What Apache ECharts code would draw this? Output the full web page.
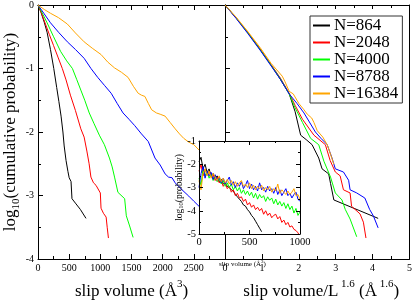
<!DOCTYPE html>
<html><head><meta charset="utf-8">
<script src="https://cdn.jsdelivr.net/npm/echarts@6/dist/echarts.min.js"></script>
<style>html,body{margin:0;padding:0;background:#fff}#c{width:415px;height:305px}</style>
</head><body><div id="c"></div>
<script>
// ---------- DATA ----------
const seriesNames = ['N=864', 'N=2048', 'N=4000', 'N=8788', 'N=16384'];
const seriesColors = ['#000000', '#ff0000', '#00ff00', '#0000ff', '#ffa500'];

// Left panel: log10(cumulative probability) vs slip volume (Å^3)
const left864 = [[0,0],[50,-0.12],[100,-0.27],[146,-0.43],[200,-0.7],[253,-1.0],[300,-1.3],[335,-1.52],[370,-1.75],[400,-2.0],[420,-2.22],[450,-2.45],[480,-2.62],[500,-2.72],[530,-2.78],[545,-3.05],[600,-3.12],[680,-3.22],[770,-3.36]];
const left2048 = [[0,0],[60,-0.14],[120,-0.3],[180,-0.46],[250,-0.64],[320,-0.82],[390,-1.0],[450,-1.18],[520,-1.42],[600,-1.66],[687,-1.95],[740,-2.08],[784,-2.3],[820,-2.5],[849,-2.71],[890,-2.8],[931,-2.84],[1000,-2.96],[1011,-3.2],[1050,-3.28],[1093,-3.34],[1110,-3.5],[1130,-3.67]];
const left4000 = [[0,0],[80,-0.15],[146,-0.28],[250,-0.5],[362,-0.73],[460,-0.88],[552,-1.0],[620,-1.17],[687,-1.34],[750,-1.5],[822,-1.7],[900,-1.87],[984,-2.05],[1065,-2.2],[1146,-2.41],[1190,-2.55],[1228,-2.71],[1282,-2.95],[1390,-3.05],[1417,-3.32],[1470,-3.48],[1526,-3.66]];
const left8788 = [[0,0],[100,-0.14],[200,-0.28],[330,-0.43],[471,-0.58],[600,-0.7],[740,-0.84],[850,-1.0],[958,-1.14],[1070,-1.27],[1174,-1.39],[1270,-1.55],[1364,-1.7],[1460,-1.8],[1552,-1.9],[1660,-2.03],[1769,-2.15],[1877,-2.41],[1960,-2.52],[2039,-2.66],[2094,-2.71],[2150,-2.72],[2200,-2.8],[2310,-2.91],[2419,-3.01],[2500,-3.09],[2635,-3.22],[2700,-3.4],[2750,-3.5]];
const left16384 = [[0,0],[100,-0.07],[200,-0.13],[330,-0.2],[471,-0.3],[600,-0.44],[740,-0.58],[870,-0.68],[1011,-0.78],[1120,-0.9],[1227,-0.99],[1340,-1.06],[1445,-1.14],[1530,-1.28],[1607,-1.39],[1660,-1.42],[1715,-1.44],[1770,-1.55],[1823,-1.65],[1900,-1.7],[1960,-1.72],[2039,-1.75],[2120,-1.85],[2201,-1.95],[2270,-2.03],[2338,-2.1],[2420,-2.16],[2500,-2.2],[2600,-2.3],[2700,-2.45]];

// Right panel: scaled slip volume / L^1.6
const right864 = [[0,0],[0.31,-0.21],[0.62,-0.44],[0.95,-0.7],[1.25,-0.95],[1.5,-1.17],[1.74,-1.4],[1.9,-1.68],[2.05,-2.05],[2.2,-2.12],[2.36,-2.2],[2.54,-2.41],[2.63,-2.58],[2.81,-2.66],[2.86,-2.81],[2.95,-3.07],[4.15,-3.36]];
const right2048 = [[0,0],[0.3,-0.2],[0.62,-0.43],[0.95,-0.69],[1.25,-0.94],[1.5,-1.15],[1.74,-1.39],[1.9,-1.58],[2.1,-1.8],[2.41,-2.05],[2.72,-2.2],[2.85,-2.45],[2.99,-2.63],[3.12,-2.69],[3.21,-2.91],[3.39,-2.96],[3.43,-3.17],[3.66,-3.29],[3.75,-3.42],[3.82,-3.67]];
const right4000 = [[0,0],[0.3,-0.2],[0.62,-0.44],[0.95,-0.7],[1.25,-0.95],[1.5,-1.16],[1.74,-1.4],[1.9,-1.62],[2.1,-1.85],[2.32,-2.1],[2.54,-2.2],[2.68,-2.46],[2.86,-2.71],[2.99,-2.96],[3.17,-3.07],[3.26,-3.22],[3.39,-3.37],[3.57,-3.65]];
const right8788 = [[0,0],[0.3,-0.21],[0.62,-0.45],[0.95,-0.71],[1.25,-0.96],[1.5,-1.17],[1.74,-1.4],[1.95,-1.55],[2.14,-1.7],[2.45,-2.0],[2.6,-2.1],[2.77,-2.2],[2.9,-2.41],[2.99,-2.58],[3.21,-2.63],[3.35,-2.76],[3.39,-2.91],[3.57,-2.96],[3.79,-3.04],[3.92,-3.22],[4.02,-3.32],[4.15,-3.51]];
const right16384 = [[0,0],[0.3,-0.19],[0.62,-0.42],[0.95,-0.67],[1.25,-0.92],[1.55,-1.12],[1.62,-1.2],[1.74,-1.36],[1.85,-1.4],[2.0,-1.55],[2.14,-1.65],[2.23,-1.72],[2.35,-1.78],[2.41,-1.85],[2.5,-1.98],[2.65,-2.08],[2.77,-2.2],[2.86,-2.35],[2.95,-2.51]];

// Inset: log10(probability) vs slip volume, bins every 20 Å^3
const insetX = [0,20,40,60,80,100,120,140,160,180,200,220,240,260,280,300,320,340,360,380,400,420,440,460,480,500,520,540,560,580,600,620,640,660,680,700,720,740,760,780,800,820,840,860,880,900,920,940,960,980,1000];
const inset864 = [-1.9,-1.7,-2.2,-2.0,-2.35,-2.2,-2.5,-2.4,-2.6,-2.5,-2.75,-2.65,-2.85,-2.8,-2.95,-3.0,-3.1,-3.15,-3.3,-3.4,-3.5,-3.6,-3.75,-3.8,-3.95,-4.05,-4.2,-4.3,-4.45,-4.6,-4.75,-4.9];
const inset2048 = [-2.3,-2.0,-2.5,-2.2,-2.45,-2.3,-2.55,-2.45,-2.7,-2.55,-2.8,-2.7,-2.95,-2.8,-3.05,-2.95,-3.2,-3.1,-3.35,-3.25,-3.45,-3.4,-3.6,-3.5,-3.75,-3.65,-3.85,-3.75,-3.95,-3.85,-4.0,-3.9,-4.15,-4.0,-4.2,-4.1,-4.3,-4.2,-4.15,-4.35,-4.25,-4.5,-4.4,-4.6,-4.5,-4.7,-4.65,-4.8,-4.85,-4.95,-5.1];
const inset4000 = [-2.6,-2.9,-2.2,-2.5,-2.3,-2.6,-2.4,-2.7,-2.5,-2.75,-2.6,-2.85,-2.7,-2.95,-2.8,-3.0,-2.85,-3.1,-2.95,-3.15,-3.0,-3.25,-3.1,-3.3,-3.15,-3.35,-3.2,-3.45,-3.25,-3.5,-3.3,-3.45,-3.35,-3.6,-3.4,-3.55,-3.45,-3.7,-3.5,-3.75,-3.6,-3.8,-3.65,-3.9,-3.7,-3.95,-3.8,-4.1,-3.9,-4.2,-4.05];
const inset8788 = [-3.0,-2.4,-2.1,-2.6,-2.3,-2.5,-2.35,-2.65,-2.45,-2.7,-2.55,-2.8,-2.6,-2.85,-2.7,-2.55,-2.9,-2.75,-3.0,-2.8,-2.95,-2.75,-3.05,-2.9,-2.7,-3.05,-2.85,-3.1,-2.95,-3.15,-2.8,-3.1,-3.0,-3.2,-2.95,-3.15,-3.05,-3.25,-3.0,-3.3,-3.1,-3.35,-3.2,-3.05,-3.35,-3.25,-3.45,-3.3,-3.2,-3.5,-3.6];
const inset16384 = [-2.7,-3.1,-2.4,-2.2,-2.5,-2.3,-2.6,-2.4,-2.55,-2.7,-2.5,-2.75,-2.6,-2.8,-2.65,-2.85,-2.7,-2.9,-2.75,-2.95,-2.8,-2.7,-2.95,-2.85,-3.0,-2.8,-3.05,-2.9,-3.1,-2.95,-3.05,-2.9,-3.15,-3.0,-3.1,-2.95,-3.2,-3.05,-3.15,-2.85,-3.25,-3.1,-3.2,-3.3,-3.15,-3.3,-3.2,-3.05,-3.35,-3.3,-3.5];

const leftXTicks = [0, 3000, 500];   // min, max, interval
const leftYTicks = [-4, 0, 1];
const rightXTicks = [0, 5, 1];
const insetXTicks = [0, 1000, 500];
const insetYTicks = [-5, -1, 1];

// ---------- CHART ----------
const FONT = 'Liberation Serif';
const chart = echarts.init(document.getElementById('c'), null, {renderer: 'canvas'});

function ax(o) {
  const base = {
    type: 'value',
    splitLine: {show: false},
    nameMoveOverlap: false,
    axisLine: {show: true, onZero: false, lineStyle: {color: '#000', width: 1}},
    axisTick: {show: true, inside: true, length: 5, lineStyle: {color: '#000', width: 1}},
    minorTick: {show: true, splitNumber: 2, length: 3, lineStyle: {color: '#000', width: 1}},
    axisLabel: {show: false, hideOverlap: false, color: '#000', fontFamily: FONT, fontSize: 10, margin: 4, formatter: v => String(v)},
    nameTextStyle: {color: '#000', fontFamily: FONT}
  };
  const r = Object.assign({}, base, o);
  if (o.axisLabel) r.axisLabel = Object.assign({}, base.axisLabel, o.axisLabel);
  if (o.axisTick) r.axisTick = Object.assign({}, base.axisTick, o.axisTick);
  if (o.minorTick) r.minorTick = Object.assign({}, base.minorTick, o.minorTick);
  return r;
}
function pairs(xs, ys) { return ys.map((y, i) => [xs[i], y]); }

const richTitle = {
  t: {fontFamily: FONT, fontSize: 17, color: '#000', lineHeight: 21, verticalAlign: 'bottom'},
  s: {fontFamily: FONT, fontSize: 11, color: '#000', lineHeight: 11, verticalAlign: 'top'}
};

const leftData = [left864, left2048, left4000, left8788, left16384];
const rightData = [right864, right2048, right4000, right8788, right16384];
const insetData = [inset864, inset2048, inset4000, inset8788, inset16384];

const series = [];
seriesNames.forEach((n, i) => {
  series.push({name: n, type: 'line', xAxisIndex: 0, yAxisIndex: 0, data: leftData[i], symbol: 'none',
    lineStyle: {color: seriesColors[i], width: 1}, itemStyle: {color: seriesColors[i]}, z: 2});
});
seriesNames.forEach((n, i) => {
  series.push({name: n, type: 'line', xAxisIndex: 2, yAxisIndex: 2, data: rightData[i], symbol: 'none',
    lineStyle: {color: seriesColors[i], width: 1}, itemStyle: {color: seriesColors[i]}, z: 2});
});
seriesNames.forEach((n, i) => {
  series.push({name: n, type: 'line', xAxisIndex: 4, yAxisIndex: 4, data: pairs(insetX, insetData[i]), symbol: 'none',
    lineStyle: {color: seriesColors[i], width: 1}, itemStyle: {color: seriesColors[i]}, zlevel: 1, z: 11, clip: true});
});

const option = {
  animation: false,
  backgroundColor: '#fff',
  grid: [
    {left: 38, top: 5, width: 187, height: 263},
    {left: 225, top: 5, width: 187, height: 263},
    {left: 199, top: 141, width: 101, height: 93, show: true, backgroundColor: '#fff', borderWidth: 0, zlevel: 1, z: 10}
  ],
  legend: {
    data: seriesNames, orient: 'vertical', left: 310, top: 16,
    backgroundColor: '#fff', borderColor: '#333', borderWidth: 1,
    padding: [1, 4, 1, 3], itemGap: 0, itemWidth: 17, itemHeight: 2,
    icon: 'path://M0,0 L17,0 L17,2 L0,2 Z',
    textStyle: {fontFamily: FONT, fontSize: 17, color: '#000', lineHeight: 15, padding: [0, 0, 0, -1]},
    z: 20
  },
  xAxis: [
    ax({gridIndex: 0, position: 'bottom', min: leftXTicks[0], max: leftXTicks[1], interval: leftXTicks[2],
      axisLabel: {show: true, margin: 4, formatter: v => (v >= 3000 ? '' : String(v))},
      name: '{t|slip volume (Å}{s|3}{t|)}', nameLocation: 'middle', nameGap: 20,
      nameTextStyle: {rich: richTitle}}),
    ax({gridIndex: 0, position: 'top', min: leftXTicks[0], max: leftXTicks[1], interval: leftXTicks[2]}),
    ax({gridIndex: 1, position: 'bottom', min: rightXTicks[0], max: rightXTicks[1], interval: rightXTicks[2],
      axisLabel: {show: true, margin: 4},
      name: '{t|slip volume/L}{s| 1.6}{t| (Å}{s| 1.6}{t|)}', nameLocation: 'middle', nameGap: 20,
      nameTextStyle: {rich: richTitle, padding: [0, 0, 0, 8]}}),
    ax({gridIndex: 1, position: 'top', min: rightXTicks[0], max: rightXTicks[1], interval: rightXTicks[2],
      axisTick: {length: 4}}),
    ax({gridIndex: 2, position: 'bottom', min: insetXTicks[0], max: insetXTicks[1], interval: insetXTicks[2], zlevel: 1, z: 12,
      axisTick: {length: 4}, minorTick: {length: 2},
      axisLabel: {show: true, margin: 3, fontSize: 10.5},
      name: '{t|slip volume (Å}{s|3}{t|)}', nameLocation: 'middle', nameGap: 25,
      nameTextStyle: {padding: [0, 14, 0, 0], rich: {
        t: {fontFamily: FONT, fontSize: 7, color: '#000', lineHeight: 9, verticalAlign: 'bottom'},
        s: {fontFamily: FONT, fontSize: 5, color: '#000', lineHeight: 5, verticalAlign: 'top'}}}}),
    ax({gridIndex: 2, position: 'top', min: insetXTicks[0], max: insetXTicks[1], interval: insetXTicks[2], zlevel: 1, z: 12,
      axisTick: {length: 4}, minorTick: {length: 2}})
  ],
  yAxis: [
    ax({gridIndex: 0, position: 'left', min: leftYTicks[0], max: leftYTicks[1], interval: leftYTicks[2],
      axisLabel: {show: true, margin: 4},
      name: '{t|log}{b|10}{t|(cumulative probability)}', nameLocation: 'middle', nameGap: 16, nameRotate: 90,
      nameTextStyle: {rich: {
        t: {fontFamily: FONT, fontSize: 17, color: '#000', lineHeight: 20, verticalAlign: 'top'},
        b: {fontFamily: FONT, fontSize: 11, color: '#000', lineHeight: 12, verticalAlign: 'bottom'}}}}),
    ax({gridIndex: 0, position: 'right', min: leftYTicks[0], max: leftYTicks[1], interval: leftYTicks[2],
      axisTick: {show: false}, minorTick: {show: false}}),
    ax({gridIndex: 1, position: 'left', min: leftYTicks[0], max: leftYTicks[1], interval: leftYTicks[2]}),
    ax({gridIndex: 1, position: 'right', min: leftYTicks[0], max: leftYTicks[1], interval: leftYTicks[2],
      axisTick: {show: false}, minorTick: {show: false}}),
    ax({gridIndex: 2, position: 'left', min: insetYTicks[0], max: insetYTicks[1], interval: insetYTicks[2], zlevel: 1, z: 12,
      axisTick: {length: 4}, minorTick: {length: 2},
      axisLabel: {show: true, margin: 3, fontSize: 10.5},
      name: '{t|log}{b|10}{t|(probability)}', nameLocation: 'middle', nameGap: 14, nameRotate: 90,
      nameTextStyle: {rich: {
        t: {fontFamily: FONT, fontSize: 9.5, color: '#000', lineHeight: 11, verticalAlign: 'top'},
        b: {fontFamily: FONT, fontSize: 6.5, color: '#000', lineHeight: 7, verticalAlign: 'bottom'}}}}),
    ax({gridIndex: 2, position: 'right', min: insetYTicks[0], max: insetYTicks[1], interval: insetYTicks[2], zlevel: 1, z: 12,
      axisTick: {length: 4}, minorTick: {length: 2}})
  ],
  series: series
};
chart.setOption(option);
</script>
</body></html>
